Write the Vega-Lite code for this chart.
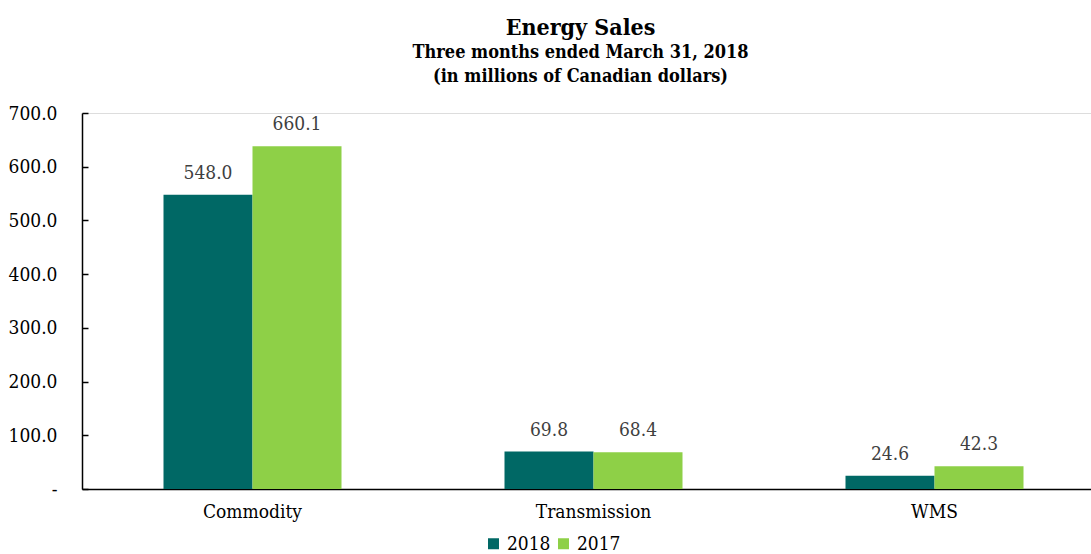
{
  "$schema": "https://vega.github.io/schema/vega-lite/v6.json",
  "width": 1009,
  "height": 376,
  "autosize": {"type": "none"},
  "padding": {"left": 82, "top": 113, "right": 0, "bottom": 65},
  "background": "white",
  "config": {"font": "DejaVu Serif Condensed, DejaVu Serif"},
  "title": {
    "text": "Energy Sales",
    "subtitle": ["Three months ended March 31, 2018", "(in millions of Canadian dollars)"],
    "font": "DejaVu Serif Condensed, DejaVu Serif",
    "fontSize": 23,
    "fontWeight": "bold",
    "color": "black",
    "subtitleFont": "DejaVu Serif Condensed, DejaVu Serif",
    "subtitleFontSize": 18,
    "subtitleFontWeight": "bold",
    "subtitleColor": "black",
    "subtitleLineHeight": 24,
    "subtitlePadding": 4,
    "anchor": "middle",
    "dx": -6,
    "offset": 18
  },
  "data": {
    "values": [
      {"category": "Commodity", "year": "2018", "value": 548.0, "label": "548.0"},
      {"category": "Commodity", "year": "2017", "value": 638.0, "label": "660.1"},
      {"category": "Transmission", "year": "2018", "value": 69.8, "label": "69.8"},
      {"category": "Transmission", "year": "2017", "value": 68.4, "label": "68.4"},
      {"category": "WMS", "year": "2018", "value": 24.6, "label": "24.6"},
      {"category": "WMS", "year": "2017", "value": 42.3, "label": "42.3"}
    ]
  },
  "encoding": {
    "x": {
      "field": "category",
      "type": "nominal",
      "sort": ["Commodity", "Transmission", "WMS"],
      "scale": {"range": [0, 1023], "paddingInner": 0.478, "paddingOuter": 0.239},
      "axis": {
        "title": null,
        "labelAngle": 0,
        "labelFont": "DejaVu Serif Condensed, DejaVu Serif",
        "labelFontSize": 19,
        "labelColor": "black",
        "labelPadding": 13,
        "ticks": false,
        "domainColor": "black",
        "domainWidth": 1.5
      }
    },
    "xOffset": {
      "field": "year",
      "type": "nominal",
      "sort": ["2018", "2017"],
      "scale": {"paddingInner": 0, "paddingOuter": 0}
    },
    "y": {
      "field": "value",
      "type": "quantitative",
      "scale": {"domain": [0, 700], "nice": false},
      "axis": {
        "title": null,
        "values": [0, 100, 200, 300, 400, 500, 600, 700],
        "labelExpr": "datum.value == 0 ? '-' : format(datum.value, '.1f')",
        "labelFont": "DejaVu Serif Condensed, DejaVu Serif",
        "labelFontSize": 19,
        "labelColor": "black",
        "grid": false,
        "domainColor": "black",
        "domainWidth": 1.5,
        "tickColor": "black",
        "tickWidth": 1.5,
        "tickSize": -6,
        "labelPadding": 31
      }
    }
  },
  "layer": [
    {
      "mark": {"type": "bar"},
      "encoding": {
        "color": {
          "field": "year",
          "type": "nominal",
          "scale": {"domain": ["2018", "2017"], "range": ["#006865", "#8ed047"]},
          "legend": {
            "title": null,
            "orient": "none",
            "direction": "horizontal",
            "legendX": 402,
            "legendY": 421,
            "symbolType": "square",
            "symbolSize": 121,
            "symbolStrokeWidth": 0,
            "symbolOpacity": 1,
            "labelFont": "DejaVu Serif Condensed, DejaVu Serif",
            "labelFontSize": 19,
            "labelColor": "black",
            "labelOffset": 4,
            "columnPadding": 3
          }
        }
      }
    },
    {
      "mark": {
        "type": "text",
        "baseline": "alphabetic",
        "dy": -16,
        "font": "DejaVu Serif Condensed, DejaVu Serif",
        "fontSize": 19,
        "color": "#404040"
      },
      "encoding": {
        "text": {"field": "label"}
      }
    }
  ]
}
